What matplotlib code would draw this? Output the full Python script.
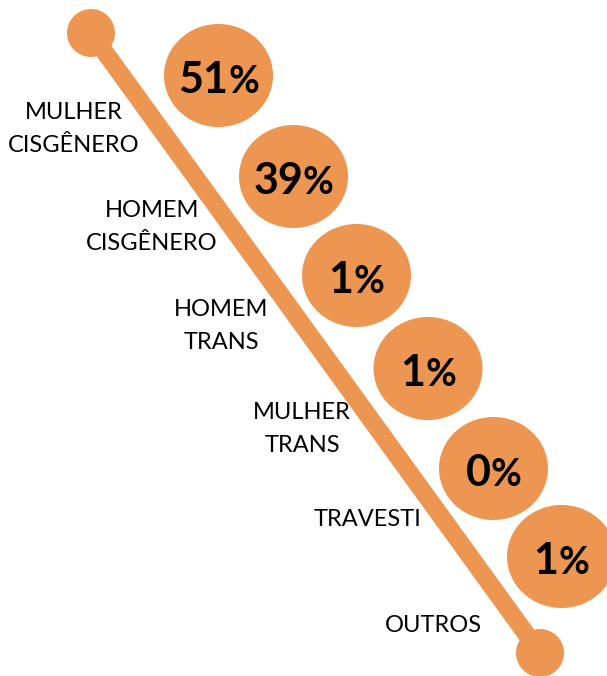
import matplotlib
matplotlib.use('Agg')
import matplotlib.pyplot as plt
from matplotlib.patches import Ellipse, Circle

# data
categories = ['MULHER\nCISGÊNERO', 'HOMEM\nCISGÊNERO', 'HOMEM\nTRANS',
              'MULHER\nTRANS', 'TRAVESTI', 'OUTROS']
percents = [51, 39, 1, 1, 0, 1]

# layout (pixel coords, y downward)
bubble_x = [218.5, 293.5, 356.5, 428, 493.5, 561.5]
bubble_y = [75.5, 176.5, 275.5, 368.5, 468.5, 556.5]
label_x = [74, 152, 221, 302, 368, 433]
label_y = [129, 227, 326, 429, 520, 625]
line_start = (91, 33)
line_end = (540, 653)

orange = '#ED9651'
W, H = 607, 676

fig = plt.figure(figsize=(W / 100, H / 100), dpi=100)
ax = fig.add_axes([0, 0, 1, 1])
ax.set_xlim(0, W)
ax.set_ylim(H, 0)
ax.axis('off')

ax.plot([line_start[0], line_end[0]], [line_start[1], line_end[1]],
        color=orange, lw=13, solid_capstyle='butt', zorder=1)
for p in (line_start, line_end):
    ax.add_patch(Circle(p, 24, color=orange, lw=0, zorder=2))

for x, y in zip(bubble_x, bubble_y):
    ax.add_patch(Ellipse((x, y), 109, 103, color=orange, lw=0, zorder=2))

for lab, x, y in zip(categories, label_x, label_y):
    ax.text(x, y, lab, ha='center', va='center', multialignment='center',
            fontsize=17, family='Lato', linespacing=1.65, color='black', zorder=3)

renderer = fig.canvas.get_renderer()
for v, x, y in zip(percents, bubble_x, bubble_y):
    t1 = ax.text(0, 0, str(v), fontsize=31, fontweight='bold', family='Lato',
                 ha='left', va='baseline', zorder=4)
    t2 = ax.text(0, 0, '%', fontsize=27, fontweight='bold', family='Lato',
                 ha='left', va='baseline', zorder=4)
    w1 = t1.get_window_extent(renderer).width
    w2 = t2.get_window_extent(renderer).width
    x0 = x - (w1 + w2) / 2
    base = y + 17.5
    t1.set_position((x0, base))
    t2.set_position((x0 + w1, base))

fig.savefig('out.png', dpi=100)
